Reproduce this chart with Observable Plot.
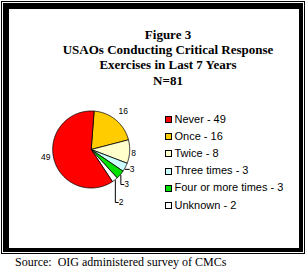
<!DOCTYPE html>
<html><head><meta charset="utf-8">
<script src="https://cdn.jsdelivr.net/npm/d3@7"></script>
<script src="https://cdn.jsdelivr.net/npm/@observablehq/plot@0.6"></script>
<style>
html,body{margin:0;padding:0;background:#fff;width:307px;height:272px;overflow:hidden;}
#wrap{position:relative;width:307px;height:272px;}
.thin{position:absolute;left:1px;top:1px;width:304px;height:253px;border:1px solid #000;box-sizing:border-box;}
.thick{position:absolute;left:3px;top:3px;width:300px;height:249px;border-style:solid;border-color:#000;border-width:6px 4px 4px 6px;box-sizing:border-box;}
#title{position:absolute;left:38px;width:260px;top:26.7px;text-align:center;font-family:"Liberation Serif",serif;font-weight:bold;font-size:13px;line-height:15.3px;}
#legend{position:absolute;left:165px;top:110.6px;font-family:"Liberation Sans",Arial,sans-serif;font-size:11px;}
.row{position:relative;height:17.2px;line-height:17.2px;white-space:nowrap;}
.sw{position:absolute;left:0;top:5.5px;width:7px;height:7px;border:1px solid #000;box-sizing:border-box;}
.lab{position:absolute;left:9.5px;top:0;}
#source{position:absolute;left:15px;top:255px;font-family:"Liberation Serif",serif;font-size:12px;line-height:14px;white-space:pre;}
#chart{position:absolute;left:0;top:0;}
</style>
</head><body>
<div id="wrap">
<div class="thin"></div>
<div class="thick"></div>
<div id="chart"></div>
<div id="title"></div>
<div id="legend"></div>
<div id="source"></div>
</div>
<script>
const titleLines = ["Figure 3", "USAOs Conducting Critical Response", "Exercises in Last 7 Years", "N=81"];
const categories = ["Never", "Once", "Twice", "Three times", "Four or more times", "Unknown"];
const counts = [49, 16, 8, 3, 3, 2];
const colors = ["#ff0000", "#ffcc00", "#ffffcc", "#ccffff", "#00e000", "#ffffff"];
const pieOrder = [1, 2, 3, 4, 5, 0];
const sourceText = "Source:  OIG administered survey of CMCs";

// title, legend, source
document.getElementById("title").innerHTML = titleLines.map(t => `<div>${t}</div>`).join("");
document.getElementById("legend").innerHTML = categories.map((c, i) =>
  `<div class="row"><span class="sw" style="background:${colors[i]}"></span><span class="lab">${c} - ${counts[i]}</span></div>`).join("");
document.getElementById("source").textContent = sourceText;

// layout
const W = 307, H = 272, cx = 90.7, cy = 149, R = 38.5;
const startDeg = 4.3;
const a0 = startDeg * Math.PI / 180;
const arcs = d3.pie().sort(null).value(i => counts[i]).startAngle(a0).endAngle(a0 + 2 * Math.PI)(pieOrder);

function poly(a) {
  const pts = [{x: 0, y: 0}];
  const n = Math.max(4, Math.ceil((a.endAngle - a.startAngle) / 0.02));
  for (let k = 0; k <= n; k++) {
    const t = a.startAngle + (a.endAngle - a.startAngle) * k / n;
    pts.push({x: Math.sin(t), y: Math.cos(t)});
  }
  pts.push({x: 0, y: 0});
  return pts;
}
const mid = a => (a.startAngle + a.endAngle) / 2;
const px = p => p / R; // pixel distance -> data units

// label placement style (per category index)
const labelStyle = {
  0: {r: 1.22, dy: -4},
  1: {r: 1.3, dy: 0},
  2: {r: 1.1, dy: 1},
  3: {leader: "dash"},
  4: {leader: "elbow", drop: 35},
  5: {leader: "elbow", drop: 53}
};

const labels = [], leaders = [];
for (const a of arcs) {
  const i = a.data, m = mid(a), st = labelStyle[i];
  const ex = Math.sin(m), ey = Math.cos(m);
  if (!st.leader) {
    labels.push({x: st.r * ex, y: st.r * ey - px(st.dy), text: String(counts[i]), anchor: "middle"});
  } else if (st.leader === "dash") {
    const x0 = 1.0 * ex, y0 = 1.0 * ey - px(2);
    leaders.push({k: i, x: x0, y: y0}, {k: i, x: x0 + px(4), y: y0});
    labels.push({x: x0 + px(4.5), y: y0 + px(0.5), text: String(counts[i]), anchor: "start"});
  } else {
    const x0 = 1.02 * ex, y0 = 1.02 * ey;
    const yb = -px(st.drop);
    leaders.push({k: i, x: x0, y: y0}, {k: i, x: x0, y: yb}, {k: i, x: x0 + px(3), y: yb});
    labels.push({x: x0 + px(3.5), y: yb, text: String(counts[i]), anchor: "start"});
  }
}

const plot = Plot.plot({
  width: W, height: H, margin: 0,
  x: {domain: [-cx / R, (W - cx) / R], axis: null},
  y: {domain: [-(H - cy) / R, cy / R], axis: null},
  style: {background: "transparent"},
  marks: [
    ...arcs.map(a => Plot.line(poly(a), {x: "x", y: "y", fill: colors[a.data], stroke: "#000", strokeWidth: 0.8, curve: "linear"})),
    Plot.line(leaders, {x: "x", y: "y", z: "k", stroke: "#000", strokeWidth: 1}),
    Plot.text(labels.filter(d => d.anchor === "middle"), {x: "x", y: "y", text: "text", textAnchor: "middle", fontSize: 8.5, fontFamily: "Liberation Sans, Arial, sans-serif", fill: "#000"}),
    Plot.text(labels.filter(d => d.anchor === "start"), {x: "x", y: "y", text: "text", textAnchor: "start", fontSize: 8.5, fontFamily: "Liberation Sans, Arial, sans-serif", fill: "#000"})
  ]
});
document.getElementById("chart").appendChild(plot);
</script>
</body></html>
